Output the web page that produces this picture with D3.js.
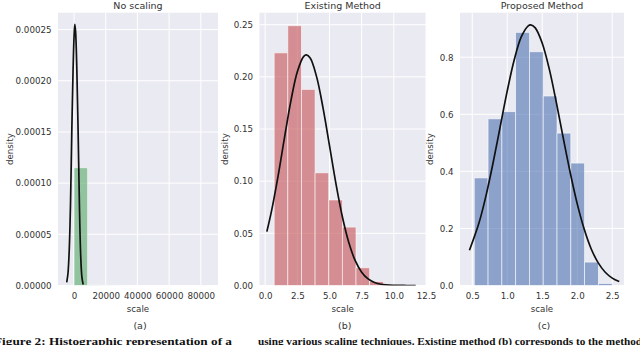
<!DOCTYPE html>
<html><head><meta charset="utf-8">
<script src="https://cdn.jsdelivr.net/npm/d3@7"></script>
<style>
html,body{margin:0;padding:0;background:#fff;overflow:hidden;}
svg{display:block;font-family:"DejaVu Sans",sans-serif;}
</style></head>
<body>
<svg id="chart" width="640" height="345"></svg>
<script>
// ---------- data ----------
const titles = ["No scaling", "Existing Method", "Proposed Method"];
const panelLabels = ["(a)", "(b)", "(c)"];

// panel (a)
const aBinStarts = [0, 8600, 17200, 25800, 34400, 43000, 51600, 60200, 68800, 77400];
const aBinHeights = [0.000115, 0.0000004, 0.0000002, 0.0000001, 0, 0, 0, 0, 0, 0.0000001];
const aBinWidth = 8600;
const aCurveX = [-4600, -3800, -3000, -2200, -1400, -600, 0, 500, 1000, 1800, 2600, 3400, 4200, 5000, 5800];
const aCurveY = [0.000003, 0.000012, 0.000035, 0.00008, 0.00015, 0.00021, 0.000242, 0.000255, 0.000248, 0.00021, 0.00015, 0.00008, 0.00003, 0.000008, 0.000001];
const aXTicks = [0, 20000, 40000, 60000, 80000];
const aYTicks = [0, 0.00005, 0.0001, 0.00015, 0.0002, 0.00025];

// panel (b)
const bBinStarts = [0.70, 1.76, 2.82, 3.88, 4.94, 6.00, 7.06, 8.12, 9.18, 10.24];
const bBinHeights = [0.223, 0.249, 0.188, 0.108, 0.082, 0.056, 0.017, 0.0038, 0.0006, 0.0002];
const bBinWidth = 1.06;
const bCurveX = [0.13, 0.5, 1.0, 1.5, 2.0, 2.5, 3.0, 3.2, 3.5, 4.0, 4.5, 5.0, 5.5, 6.0, 6.5, 7.0, 7.5, 8.0, 8.5, 9.0, 10.0, 11.0, 11.7];
const bCurveY = [0.0516, 0.0718, 0.1047, 0.1415, 0.177, 0.205, 0.2197, 0.221, 0.218, 0.200, 0.170, 0.134, 0.0977, 0.0659, 0.0412, 0.0238, 0.0128, 0.0063, 0.0029, 0.0012, 0.0002, 0.00002, 0];
const bXTicks = [0, 2.5, 5, 7.5, 10, 12.5];
const bYTicks = [0, 0.05, 0.10, 0.15, 0.20, 0.25];

// panel (c)
const cBinStarts = [0.529, 0.726, 0.923, 1.120, 1.317, 1.514, 1.711, 1.908, 2.105, 2.302];
const cBinHeights = [0.377, 0.584, 0.609, 0.887, 0.819, 0.664, 0.534, 0.429, 0.082, 0.007];
const cBinWidth = 0.197;
const cCurveX = [0.46, 0.6, 0.7, 0.8, 0.9, 1.0, 1.1, 1.2, 1.3, 1.334, 1.4, 1.5, 1.6, 1.7, 1.8, 1.9, 2.0, 2.1, 2.2, 2.3, 2.4, 2.5, 2.6];
const cCurveY = [0.1236, 0.2227, 0.3186, 0.4327, 0.5576, 0.682, 0.791, 0.871, 0.910, 0.913, 0.903, 0.849, 0.759, 0.643, 0.517, 0.395, 0.286, 0.197, 0.128, 0.0793, 0.0465, 0.0259, 0.0137];
const cXTicks = [0.5, 1.0, 1.5, 2.0, 2.5];
const cYTicks = [0, 0.2, 0.4, 0.6, 0.8];

const captionLeft = "Figure 2: Histographic representation of a";
const captionRight = "using various scaling techniques. Existing method (b) corresponds to the method";

// ---------- layout ----------
const panels = [
  {left: 58, right: 218, xDom: [-10100, 90850], yDom: [0, 0.0002665],
   starts: aBinStarts, heights: aBinHeights, bw: aBinWidth, cx: aCurveX, cy: aCurveY,
   xt: aXTicks, yt: aYTicks, xf: d3.format("d"), yf: d3.format(".5f"),
   color: "#55A868", ylabX: 10},
  {left: 259.5, right: 426, xDom: [-0.44, 12.5], yDom: [0, 0.2615],
   starts: bBinStarts, heights: bBinHeights, bw: bBinWidth, cx: bCurveX, cy: bCurveY,
   xt: bXTicks, yt: bYTicks, xf: d3.format(".1f"), yf: d3.format(".2f"),
   color: "#C44E52", ylabX: 225},
  {left: 460, right: 624, xDom: [0.325, 2.668], yDom: [0, 0.956],
   starts: cBinStarts, heights: cBinHeights, bw: cBinWidth, cx: cCurveX, cy: cCurveY,
   xt: cXTicks, yt: cYTicks, xf: d3.format(".1f"), yf: d3.format(".1f"),
   color: "#4C72B0", ylabX: 430}
];
const plotTop = 12.7, plotBottom = 285.5;
const textColor = "#333";
const svg = d3.select("#chart");

panels.forEach((p, i) => {
  const x = d3.scaleLinear().domain(p.xDom).range([p.left, p.right]);
  const y = d3.scaleLinear().domain(p.yDom).range([plotBottom, plotTop]);
  const g = svg.append("g");
  const clipId = "clip" + i;
  svg.append("clipPath").attr("id", clipId).append("rect")
    .attr("x", p.left).attr("y", plotTop).attr("width", p.right - p.left).attr("height", plotBottom - plotTop);

  g.append("rect").attr("x", p.left).attr("y", plotTop)
    .attr("width", p.right - p.left).attr("height", plotBottom - plotTop).attr("fill", "#EAEAF2");

  // grid
  g.selectAll(".gx").data(p.xt).join("line")
    .attr("x1", d => x(d)).attr("x2", d => x(d)).attr("y1", plotTop).attr("y2", plotBottom)
    .attr("stroke", "#fff").attr("stroke-width", 1);
  g.selectAll(".gy").data(p.yt).join("line")
    .attr("x1", p.left).attr("x2", p.right).attr("y1", d => y(d)).attr("y2", d => y(d))
    .attr("stroke", "#fff").attr("stroke-width", 1);

  const pg = g.append("g").attr("clip-path", `url(#${clipId})`);
  // bars
  pg.selectAll("rect.bar").data(p.starts.map((s, k) => ({s, h: p.heights[k]})))
    .join("rect").attr("class", "bar")
    .attr("x", d => x(d.s)).attr("width", d => x(d.s + p.bw) - x(d.s))
    .attr("y", d => y(d.h)).attr("height", d => y(0) - y(d.h))
    .attr("fill", p.color).attr("fill-opacity", 0.6)
    .attr("stroke", "#fff").attr("stroke-opacity", 0.7).attr("stroke-width", 0.8);

  // curve
  const pts = p.cx.map((v, k) => [v, p.cy[k]]);
  pg.append("path").datum(pts)
    .attr("d", d3.line().x(d => x(d[0])).y(d => y(d[1])).curve(d3.curveCatmullRom.alpha(0.5)))
    .attr("fill", "none").attr("stroke", "#111").attr("stroke-width", 1.7);

  // axes
  const xa = g.append("g").attr("transform", `translate(0,${plotBottom})`)
    .call(d3.axisBottom(x).tickValues(p.xt).tickFormat(p.xf).tickSize(0).tickPadding(7));
  const ya = g.append("g").attr("transform", `translate(${p.left},0)`)
    .call(d3.axisLeft(y).tickValues(p.yt).tickFormat(p.yf).tickSize(0).tickPadding(6.5));
  [xa, ya].forEach(a => {
    a.select(".domain").remove();
    a.selectAll("text").attr("fill", textColor).style("font-size", "8.7px")
      .style("font-family", "'DejaVu Sans', sans-serif");
  });

  const cxm = (p.left + p.right) / 2;
  g.append("text").attr("x", cxm).attr("y", 9).attr("text-anchor", "middle")
    .attr("fill", textColor).style("font-size", "9.5px").text(titles[i]);
  g.append("text").attr("x", cxm).attr("y", 312).attr("text-anchor", "middle")
    .attr("fill", textColor).style("font-size", "8.7px").text("scale");
  g.append("text").attr("transform", `translate(${p.ylabX + 3},${(plotTop + plotBottom) / 2}) rotate(-90)`)
    .attr("text-anchor", "middle").attr("fill", textColor).style("font-size", "8.7px").text("density");
  g.append("text").attr("x", cxm + 2).attr("y", 329).attr("text-anchor", "middle")
    .attr("fill", textColor).style("font-size", "9.5px").text(panelLabels[i]);
});

// caption (partly cut at bottom of frame, as in the reference)
svg.append("text").attr("x", -6).attr("y", 344.5)
  .attr("textLength", 238).attr("lengthAdjust", "spacingAndGlyphs")
  .style("font-family", "'Liberation Serif', serif").style("font-weight", "bold").style("font-size", "10.5px")
  .attr("fill", "#111").text(captionLeft);
svg.append("text").attr("x", 258).attr("y", 344.5)
  .attr("textLength", 384).attr("lengthAdjust", "spacingAndGlyphs")
  .style("font-family", "'Liberation Serif', serif").style("font-weight", "bold").style("font-size", "10.5px")
  .attr("fill", "#111").text(captionRight);
</script>
</body></html>
